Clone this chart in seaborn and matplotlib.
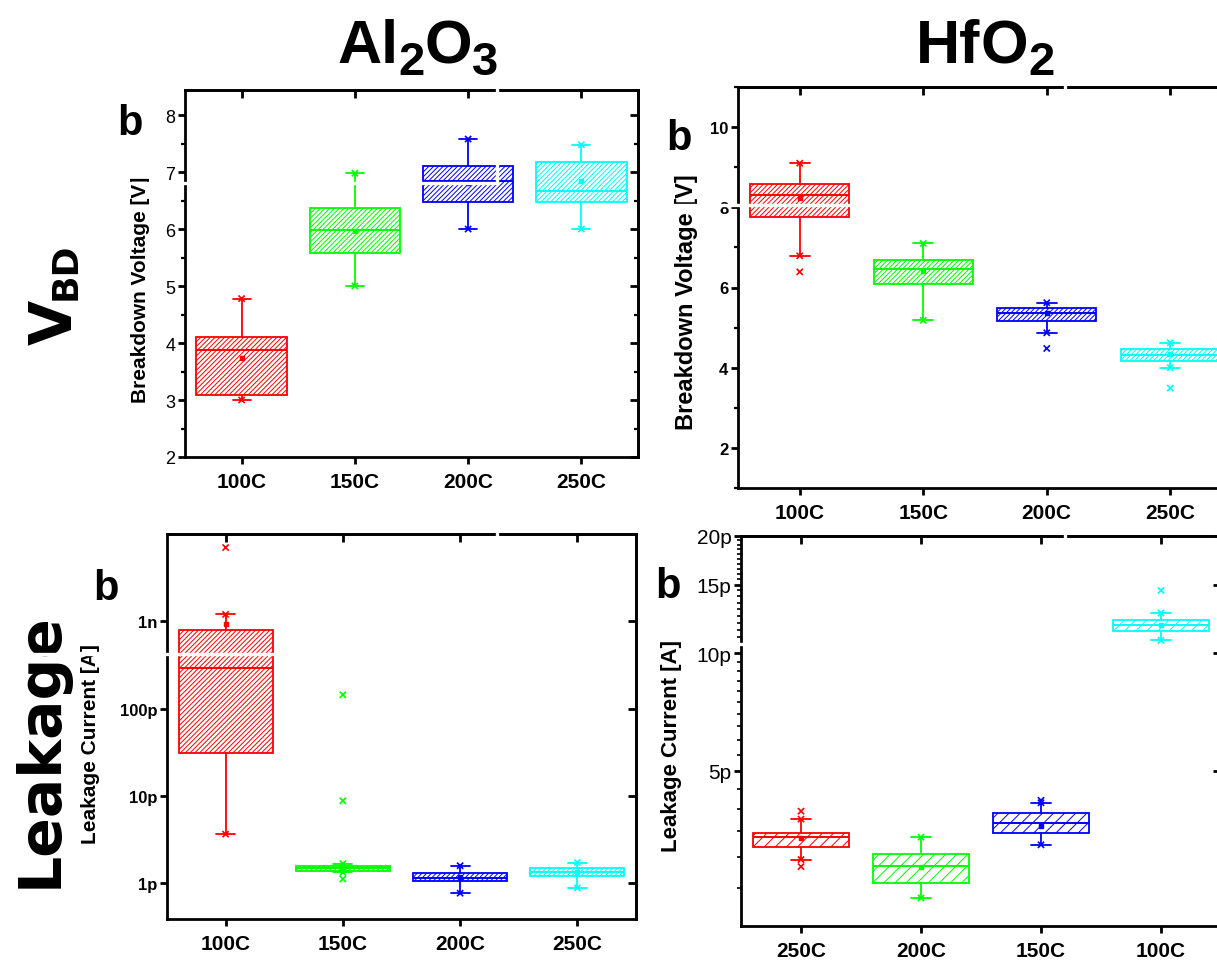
import numpy as np
import matplotlib
matplotlib.use("Agg")
import matplotlib.pyplot as plt
from matplotlib.lines import Line2D
import seaborn as sns
from matplotlib.ticker import FixedLocator, NullFormatter, FixedFormatter

# ---------------------------------------------------------------- data
temps = ["100C", "150C", "200C", "250C"]
temps_hf_leak = ["250C", "200C", "150C", "100C"]
box_colors = ["#ff0000", "#00ff00", "#0000ff", "#00ffff"]

# Al2O3 breakdown voltage [V]
al_vbd_q1 = [3.08, 5.58, 6.47, 6.48]
al_vbd_med = [3.87, 5.98, 6.84, 6.67]
al_vbd_q3 = [4.10, 6.37, 7.10, 7.18]
al_vbd_lo = [3.00, 5.00, 6.00, 6.00]
al_vbd_hi = [4.78, 6.98, 7.58, 7.48]
al_vbd_mean = [3.74, 5.97, 6.80, 6.84]
al_vbd_out = [[], [], [], []]

# HfO2 breakdown voltage [V]
hf_vbd_q1 = [7.76, 6.08, 5.16, 4.17]
hf_vbd_med = [8.30, 6.45, 5.37, 4.32]
hf_vbd_q3 = [8.59, 6.68, 5.48, 4.47]
hf_vbd_lo = [6.79, 5.18, 4.87, 4.00]
hf_vbd_hi = [9.10, 7.10, 5.62, 4.62]
hf_vbd_mean = [8.22, 6.40, 5.37, 4.35]
hf_vbd_out = [[6.39], [], [4.48], [3.49]]

# Al2O3 leakage current [A]
al_leak_q1 = [3.1e-11, 1.37e-12, 1.05e-12, 1.22e-12]
al_leak_med = [2.94e-10, 1.50e-12, 1.15e-12, 1.36e-12]
al_leak_q3 = [7.9e-10, 1.59e-12, 1.30e-12, 1.50e-12]
al_leak_lo = [3.65e-12, 1.33e-12, 7.7e-13, 8.85e-13]
al_leak_hi = [1.2e-9, 1.68e-12, 1.59e-12, 1.73e-12]
al_leak_mean = [9.4e-10, 1.50e-12, 1.17e-12, 1.36e-12]
al_leak_out = [[7.0e-9], [1.44e-10, 8.8e-12, 1.12e-12], [], []]

# HfO2 leakage current [A] (categories in reverse temperature order)
hf_leak_q1 = [3.18e-12, 2.58e-12, 3.47e-12, 11.4e-12]
hf_leak_med = [3.39e-12, 2.85e-12, 3.68e-12, 11.8e-12]
hf_leak_q3 = [3.47e-12, 3.06e-12, 3.89e-12, 12.2e-12]
hf_leak_lo = [2.96e-12, 2.36e-12, 3.23e-12, 10.8e-12]
hf_leak_hi = [3.76e-12, 3.38e-12, 4.14e-12, 12.7e-12]
hf_leak_mean = [3.36e-12, 2.83e-12, 3.62e-12, 11.8e-12]
hf_leak_out = [[3.94e-12, 2.84e-12], [], [4.20e-12], [14.5e-12]]

# ---------------------------------------------------------------- style
sns.set_style("ticks")
plt.rcParams["font.family"] = ["Liberation Sans", "DejaVu Sans"]
plt.rcParams.update({
    "hatch.linewidth": 0.7,
    "axes.linewidth": 2.0,
    "text.color": "black",
    "axes.labelcolor": "black",
    "xtick.color": "black",
    "ytick.color": "black",
})

W, H = 1217, 962
fig = plt.figure(figsize=(W / 100, H / 100), dpi=100)
fig.patch.set_facecolor("white")


def rect(l, t, r, b):
    return [l / W, 1 - b / H, (r - l) / W, (b - t) / H]


def fxy(x, y):
    return x / W, 1 - y / H


def draw_panel(ax, cats, q1, med, q3, lo, hi, mean, outliers, hatch):
    n = len(cats)
    stats = [dict(label=cats[i], q1=q1[i], med=med[i], q3=q3[i],
                  whislo=lo[i], whishi=hi[i], mean=mean[i], fliers=[])
             for i in range(n)]
    art = ax.bxp(stats, positions=np.arange(n), widths=0.8, capwidths=0.16,
                 patch_artist=True, showmeans=True, showfliers=False,
                 manage_ticks=False)
    for i in range(n):
        c = box_colors[i]
        b = art["boxes"][i]
        b.set_facecolor("white")
        b.set_edgecolor(c)
        b.set_hatch(hatch)
        b.set_linewidth(1.3)
        art["medians"][i].set(color=c, linewidth=1.4)
        for w in art["whiskers"][2 * i:2 * i + 2]:
            w.set(color=c, linewidth=1.3)
        for cp in art["caps"][2 * i:2 * i + 2]:
            cp.set(color=c, linewidth=1.3)
        art["means"][i].set(marker="s", markersize=2.5,
                            markerfacecolor=c, markeredgecolor=c)
    # range marks at whisker ends and points outside the whiskers
    xs, ys, hs = [], [], []
    for i in range(n):
        for v in [lo[i], hi[i]] + list(outliers[i]):
            xs.append(i)
            ys.append(v)
            hs.append(str(i))
    sns.scatterplot(x=xs, y=ys, hue=hs, palette={str(i): box_colors[i] for i in range(n)},
                    marker="x", s=20, linewidth=1.2, legend=False, ax=ax, zorder=5)
    ax.set_xlim(-0.5, n - 0.5)
    ax.set_xticks(np.arange(n))
    ax.set_xticklabels(cats, fontsize=15, fontweight="bold")
    ax.set_xlabel("")
    ax.set_ylabel("")
    for s in ax.spines.values():
        s.set_linewidth(2.0)
        s.set_color("black")
    ax.tick_params(axis="x", which="major", direction="out", length=5, width=2, pad=6)
    ax.tick_params(axis="y", which="major", direction="out", length=5, width=2, pad=2)
    ax.tick_params(axis="y", which="minor", direction="out", length=3, width=1.6)
    ax.tick_params(axis="x", which="minor", bottom=False)


def mirror_ticks(ax, ymaj, ymin):
    top = ax.secondary_xaxis("top")
    top.set_xticks(ax.get_xticks())
    top.xaxis.set_major_formatter(NullFormatter())
    top.tick_params(direction="in", length=6, width=2)
    top.spines["top"].set_linewidth(2.0)
    right = ax.secondary_yaxis("right")
    right.yaxis.set_major_locator(FixedLocator(ymaj))
    right.yaxis.set_minor_locator(FixedLocator(ymin))
    right.yaxis.set_major_formatter(NullFormatter())
    right.yaxis.set_minor_formatter(NullFormatter())
    right.tick_params(which="major", direction="in", length=6, width=2)
    right.tick_params(which="minor", direction="in", length=3, width=1.6)
    right.spines["right"].set_linewidth(2.0)


dense = "///////"

# ------------------------------------------------ Al2O3 breakdown voltage
ax1 = fig.add_axes(rect(185, 91, 638, 458))
draw_panel(ax1, temps, al_vbd_q1, al_vbd_med, al_vbd_q3, al_vbd_lo, al_vbd_hi,
           al_vbd_mean, al_vbd_out, dense)
ax1.set_ylim(2, 8.44)
maj1 = [2, 3, 4, 5, 6, 7, 8]
min1 = [2.5, 3.5, 4.5, 5.5, 6.5, 7.5]
ax1.yaxis.set_major_locator(FixedLocator(maj1))
ax1.yaxis.set_minor_locator(FixedLocator(min1))
ax1.yaxis.set_major_formatter(FixedFormatter([str(v) for v in maj1]))
ax1.tick_params(axis="y", labelsize=13)
mirror_ticks(ax1, maj1, min1)

# ------------------------------------------------ HfO2 breakdown voltage
ax2 = fig.add_axes(rect(738, 88, 1232, 489))
draw_panel(ax2, temps, hf_vbd_q1, hf_vbd_med, hf_vbd_q3, hf_vbd_lo, hf_vbd_hi,
           hf_vbd_mean, hf_vbd_out, dense)
ax2.set_ylim(1, 11)
maj2 = [2, 4, 6, 8, 10]
min2 = [1, 3, 5, 7, 9, 11]
ax2.yaxis.set_major_locator(FixedLocator(maj2))
ax2.yaxis.set_minor_locator(FixedLocator(min2))
ax2.yaxis.set_major_formatter(FixedFormatter([str(v) for v in maj2]))
for lab in ax2.get_yticklabels():
    lab.set_fontweight("bold")
ax2.tick_params(axis="y", labelsize=12)
mirror_ticks(ax2, maj2, min2)

# ------------------------------------------------ Al2O3 leakage current
ax3 = fig.add_axes(rect(167, 535, 636, 920))
ax3.set_yscale("log")
draw_panel(ax3, temps, al_leak_q1, al_leak_med, al_leak_q3, al_leak_lo, al_leak_hi,
           al_leak_mean, al_leak_out, dense)
ax3.set_ylim(3.9e-13, 1.0e-8)
maj3 = [1e-12, 1e-11, 1e-10, 1e-9]
ax3.yaxis.set_major_locator(FixedLocator(maj3))
ax3.yaxis.set_minor_locator(FixedLocator([]))
ax3.yaxis.set_major_formatter(FixedFormatter(["1p", "10p", "100p", "1n"]))
ax3.yaxis.set_minor_formatter(NullFormatter())
for lab in ax3.get_yticklabels():
    lab.set_fontweight("bold")
ax3.tick_params(axis="y", labelsize=12)
mirror_ticks(ax3, maj3, [])

# ------------------------------------------------ HfO2 leakage current
ax4 = fig.add_axes(rect(741, 537, 1221, 927))
ax4.set_yscale("log")
draw_panel(ax4, temps_hf_leak, hf_leak_q1, hf_leak_med, hf_leak_q3, hf_leak_lo,
           hf_leak_hi, hf_leak_mean, hf_leak_out, "///")
ax4.set_ylim(2.0e-12, 2.0e-11)
maj4 = [5e-12, 10e-12, 15e-12, 20e-12]
min4 = [v * 1e-12 for v in np.arange(2.5, 20.0, 0.5) if v not in (5.0, 10.0, 15.0)]
ax4.yaxis.set_major_locator(FixedLocator(maj4))
ax4.yaxis.set_minor_locator(FixedLocator(min4))
ax4.yaxis.set_major_formatter(FixedFormatter(["5p", "10p", "15p", "20p"]))
ax4.yaxis.set_minor_formatter(NullFormatter())
ax4.tick_params(axis="y", labelsize=15)
ax4.tick_params(axis="y", which="minor", length=3, width=1.2)
mirror_ticks(ax4, maj4, min4)

# ---------------------------------------------------------------- axis titles
fig.text(*fxy(140, 290), "Breakdown Voltage [V]", rotation=90, ha="center", va="center",
         fontsize=15, fontweight="bold")
fig.text(*fxy(687, 302), "Breakdown Voltage [V]", rotation=90, ha="center", va="center",
         fontsize=17, fontweight="bold")
fig.text(*fxy(91, 744), "Leakage Current [A]", rotation=90, ha="center", va="center",
         fontsize=15, fontweight="bold")
fig.text(*fxy(671, 746), "Leakage Current [A]", rotation=90, ha="center", va="center",
         fontsize=16, fontweight="bold")

# panel letters
for (px, py) in [(117, 135), (666, 150), (93, 600), (655, 598)]:
    fig.text(*fxy(px, py), "b", ha="left", va="baseline", fontsize=30, fontweight="bold")

# ---------------------------------------------------------------- column / row headers
renderer = fig.canvas.get_renderer()
narrow = ["Liberation Sans Narrow", "Liberation Sans", "DejaVu Sans"]


def formula(pieces, xc, yb, size, sub_size, drop):
    items = []
    for s, sub in pieces:
        t = fig.text(0, 0, s, fontsize=sub_size if sub else size, fontweight="bold",
                     family=narrow, ha="left", va="baseline")
        items.append((t, sub, t.get_window_extent(renderer).width))
    x = xc - sum(w for _, _, w in items) / 2
    for t, sub, w in items:
        t.set_position(fxy(x, yb + (drop if sub else 0)))
        x += w


formula([("Al", False), ("2", True), ("O", False), ("3", True)], 418, 63, 44, 34, 12)
formula([("Hf", False), ("O", False), ("2", True)], 985, 63, 44, 34, 12)

# rotated row headers
tv = fig.text(*fxy(72, 345), "V", rotation=90, rotation_mode="anchor", ha="left",
              va="baseline", fontsize=42, fontweight="bold", family=["DejaVu Sans"])
wv = tv.get_window_extent(renderer).height
fig.text(*fxy(76, 345 - wv), "BD", rotation=90, rotation_mode="anchor", ha="left",
         va="baseline", fontsize=26, fontweight="bold", family=["DejaVu Sans"])
fig.text(*fxy(40, 750), "Leakage", rotation=90, ha="center", va="center",
         fontsize=42, fontweight="bold", family=["DejaVu Sans"])

# thin white seams where the four panel tiles were joined
seams = [
    ((100, 497), (184, 184)), ((497, 497), (80, 184)),
    ((660, 1065), (206, 206)), ((1065, 1065), (80, 206)),
    ((0, 497), (655, 655)), ((497, 497), (525, 655)),
    ((730, 1065), (645, 645)), ((1065, 1065), (525, 645)),
]
for xs_, ys_ in seams:
    fig.add_artist(Line2D([x / W for x in xs_], [1 - y / H for y in ys_],
                          color="white", linewidth=2.4, zorder=20,
                          transform=fig.transFigure))

fig.savefig("out.png", dpi=100, facecolor="white")
